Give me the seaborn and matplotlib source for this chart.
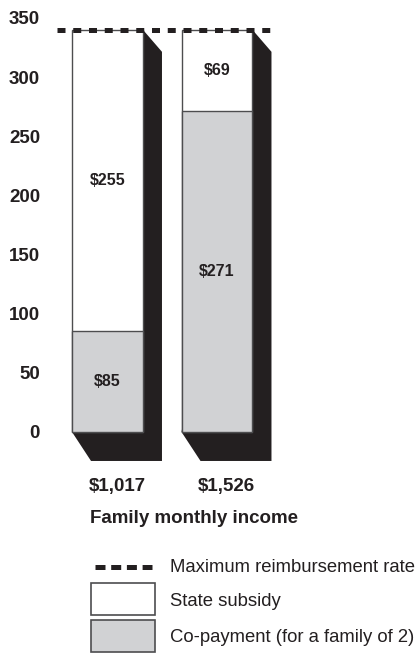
import matplotlib
matplotlib.use("Agg")
import matplotlib.pyplot as plt
import seaborn as sns
import numpy as np
from matplotlib.patches import Polygon, Rectangle
from matplotlib.lines import Line2D

# data
incomes = ["$1,017", "$1,526"]
copayment = [85, 271]
subsidy = [255, 69]
max_rate = 340

sns.set_style("white")
plt.rcParams["font.family"] = ["Liberation Sans", "DejaVu Sans"]

BLACK = "#231f20"
GREY = "#d1d2d4"
EDGE = "#4d4d4f"

totals = [c + s for c, s in zip(copayment, subsidy)]

fig = plt.figure(figsize=(4.18, 6.54), dpi=100)
ax = fig.add_axes([45 / 418, 0.27615, 365 / 418, 0.71442])

# stacked bars: full height white (subsidy on top), then co-payment over it
sns.barplot(x=incomes, y=totals, color="white", edgecolor=EDGE, linewidth=1,
            width=0.648, saturation=1, errorbar=None, ax=ax, zorder=3)
sns.barplot(x=incomes, y=copayment, color=GREY, edgecolor=EDGE, linewidth=1,
            width=0.648, saturation=1, errorbar=None, ax=ax, zorder=4)

# 3D shadow behind each bar
dx, dtop, dbot = 0.1735, 18.6, 24.5
for p in ax.patches[:len(incomes)]:
    L, B = p.get_x(), p.get_y()
    R, T = L + p.get_width(), B + p.get_height()
    ax.add_patch(Polygon([(R, T), (R + dx, T - dtop), (R + dx, B - dbot),
                          (L + dx, B - dbot), (L, B)],
                         closed=True, facecolor=BLACK, edgecolor="none", zorder=2))

# segment labels
for i in range(len(incomes)):
    ax.text(i, copayment[i] / 2, f"${copayment[i]}", ha="center", va="center",
            fontsize=11.5, fontweight="bold", color=BLACK, zorder=6)
    ax.text(i, copayment[i] + subsidy[i] / 2, f"${subsidy[i]}", ha="center",
            va="center", fontsize=11.5, fontweight="bold", color=BLACK, zorder=6)

# maximum reimbursement rate
ax.hlines(max_rate, -0.461, 1.502, colors=BLACK, linewidth=3.6,
          linestyles=(0, (1.6, 1.55)), zorder=7)

ax.set_ylim(-35, 360)
ax.set_xlim(-0.5708, 2.7626)
ax.set_yticks(np.arange(0, 351, 50))
ax.set_yticklabels([str(v) for v in range(0, 351, 50)], fontsize=13.5,
                   fontweight="bold", color=BLACK)
ax.set_xticks(np.arange(len(incomes)) + dx / 2)
ax.set_xticklabels(incomes, fontsize=13.5, fontweight="bold", color=BLACK)
ax.tick_params(axis="y", length=0, pad=3.6)
ax.tick_params(axis="x", length=0, pad=3)
ax.set_xlabel("")
ax.set_ylabel("")
sns.despine(ax=ax, left=True, bottom=True)

fig.text(90 / 418, 1 - 518.5 / 654, "Family monthly income", ha="left",
         va="center", fontsize=13.5, fontweight="bold", color=BLACK)

# legend
def fy(px):
    return 1 - px / 654

fig.add_artist(Line2D([95 / 418, 152 / 418], [fy(567), fy(567)], color=BLACK,
                      linewidth=3.6, linestyle=(0, (2.0, 1.14))))
fig.add_artist(Rectangle((91 / 418, fy(615)), 64 / 418, 32 / 654,
                         facecolor="white", edgecolor=EDGE, linewidth=1.2))
fig.add_artist(Rectangle((91 / 418, fy(652)), 64 / 418, 32 / 654,
                         facecolor=GREY, edgecolor=EDGE, linewidth=1.2))
for y, label in [(567, "Maximum reimbursement rate"), (601, "State subsidy"),
                 (638, "Co-payment (for a family of 2)")]:
    fig.text(170 / 418, fy(y), label, ha="left", va="center", fontsize=13.3,
             color=BLACK)

fig.savefig("out.png", dpi=100)
